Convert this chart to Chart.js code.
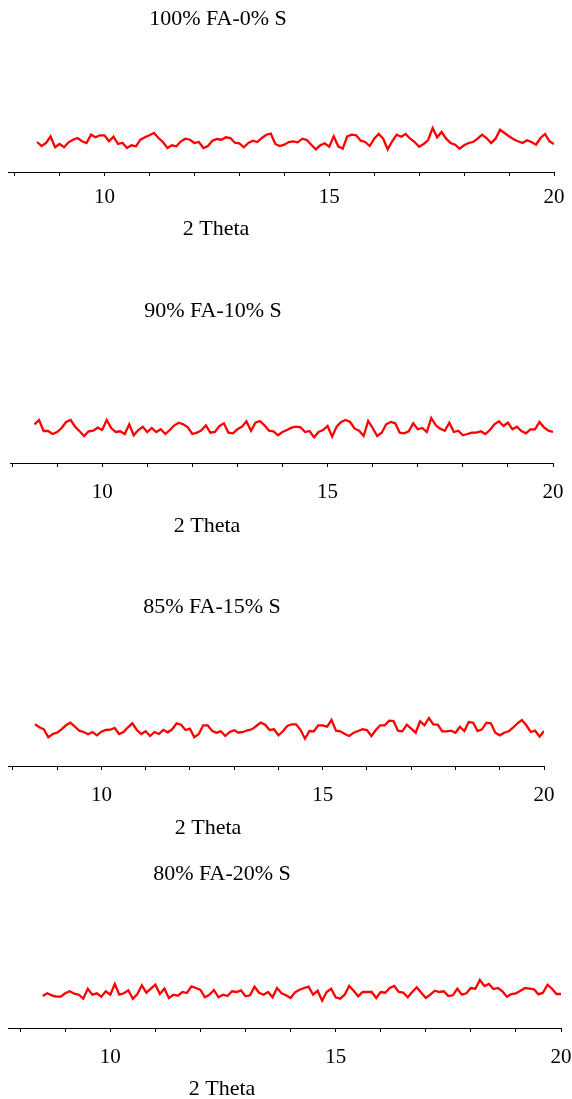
<!DOCTYPE html>
<html>
<head>
<meta charset="utf-8">
<script src="https://cdn.jsdelivr.net/npm/chart.js@4.4.0/dist/chart.umd.min.js"></script>
<style>
  body { margin: 0; background: #fff; width: 572px; height: 1099px; position: relative; overflow: hidden; }
  .panel { position: absolute; left: 0; width: 600px; }
</style>
</head>
<body>
<div class="panel" style="top:0px;height:238px"><canvas id="c1"></canvas></div>
<div class="panel" style="top:250px;height:287px"><canvas id="c2"></canvas></div>
<div class="panel" style="top:540px;height:300px"><canvas id="c3"></canvas></div>
<div class="panel" style="top:840px;height:262px"><canvas id="c4"></canvas></div>
<script>
// 2 Theta grid (degrees)
var twoTheta = [8.5, 8.6, 8.7, 8.8, 8.9, 9.0, 9.1, 9.2, 9.3, 9.4, 9.5, 9.6, 9.7, 9.8, 9.9,
  10.0, 10.1, 10.2, 10.3, 10.4, 10.5, 10.6, 10.7, 10.8, 10.9, 11.0, 11.1, 11.2, 11.3, 11.4,
  11.5, 11.6, 11.7, 11.8, 11.9, 12.0, 12.1, 12.2, 12.3, 12.4, 12.5, 12.6, 12.7, 12.8, 12.9,
  13.0, 13.1, 13.2, 13.3, 13.4, 13.5, 13.6, 13.7, 13.8, 13.9, 14.0, 14.1, 14.2, 14.3, 14.4,
  14.5, 14.6, 14.7, 14.8, 14.9, 15.0, 15.1, 15.2, 15.3, 15.4, 15.5, 15.6, 15.7, 15.8, 15.9,
  16.0, 16.1, 16.2, 16.3, 16.4, 16.5, 16.6, 16.7, 16.8, 16.9, 17.0, 17.1, 17.2, 17.3, 17.4,
  17.5, 17.6, 17.7, 17.8, 17.9, 18.0, 18.1, 18.2, 18.3, 18.4, 18.5, 18.6, 18.7, 18.8, 18.9,
  19.0, 19.1, 19.2, 19.3, 19.4, 19.5, 19.6, 19.7, 19.8, 19.9, 20.0];

// intensities (arbitrary units)
var fa100 = [30, 26, 29, 35.5, 24.7, 28, 24.7, 29.7, 32.3, 34, 30.7, 29, 37.3, 34.7, 36.7, 36.7, 30.7, 35.3, 28, 29.3,
  24, 26.7, 25.7, 32.3, 34.7, 36.7, 39, 34, 30, 24, 26.7, 25.7, 30.7, 33.3, 32.3, 29, 30, 24, 26, 31.3,
  33, 32.3, 34.7, 34, 29.3, 28.7, 24.7, 29, 31.3, 30, 34, 37.3, 38.3, 28, 26, 27.3, 30, 30.7,
  29.7, 33.3, 32, 27.3, 22.7, 26.7, 28.7, 25.3, 35.7, 25.7, 23.3, 35.7, 37.3, 36.7, 31.3, 30, 26, 33.3, 38, 33.3,
  22.7, 30.7, 37.3, 35.3, 38, 33.3, 30, 25.3, 28, 32, 44, 34.7, 40, 33.3, 29, 27.3, 23.3, 26.7, 29, 30,
  33.3, 37.3, 34, 29, 33.3, 42.3, 39, 35.7, 32.7, 30.7, 29, 31.7, 30, 27.3, 34, 38, 30.7, 28];

var fa90 = [38.7, 43, 32, 32, 29, 31, 35, 41, 43, 36.3, 31.7, 27, 31.7, 32.3, 35.3, 33, 43, 35, 31, 31.7,
  29, 38.7, 27.7, 33, 36.3, 31, 35, 31, 33.7, 29, 33, 37.7, 40.3, 38.7, 35.7, 29, 30.3, 32.7, 37.7, 30.3,
  31, 37, 39.7, 30.3, 29.7, 33.7, 36.3, 41.7, 32.3, 40.3, 42, 37.7, 32.3, 31.7, 27.7, 31, 33, 35.3,
  36.3, 35.7, 31, 32, 25.7, 31, 33, 37, 26.3, 36.3, 41, 43, 41, 34.3, 32.3, 27, 42, 35, 27, 30.3,
  38.7, 41, 39.7, 30.3, 29.7, 31.7, 39.7, 33.7, 35, 31, 45, 37.7, 34.3, 32.3, 40.3, 31, 32.3, 27.7, 29, 30.3,
  30.3, 31.7, 29, 33, 38.7, 41.7, 37, 40.3, 33.7, 36.3, 32, 29.7, 33.7, 33.7, 41, 35.7, 32.3, 31];

var fa85 = [41.7, 38.7, 36.7, 28.7, 32, 33.3, 36.7, 40.7, 43.3, 39.3, 35.3, 34, 31.7, 34, 30.7, 34.3, 36, 36.3, 38, 32,
  34, 38.7, 42.7, 36, 32, 34.7, 30, 34, 32, 36, 33.7, 36.7, 42.7, 41.3, 36, 37.3, 28.7, 32, 40.7, 40.7,
  35.3, 33.3, 34.7, 30, 34, 35.7, 33.3, 34, 35.7, 36.7, 40, 43.3, 41.3, 36, 36.7, 30.7, 34.7, 40, 41.7,
  41.7, 36, 27.3, 35, 34.7, 40.7, 40.7, 39.3, 46, 35.3, 34.7, 32, 30, 33.3, 35, 36.7, 36, 30, 36, 40.7,
  40.7, 45.3, 45, 35.3, 34.7, 41.3, 37.3, 33.3, 44.7, 40.7, 48, 41.7, 41.3, 34.7, 34.7, 35.3, 33.3, 39.3, 35, 44,
  43.3, 35, 36.7, 43.3, 42.7, 33.3, 30.7, 33.3, 34.7, 38.3, 42.7, 46, 40.7, 34, 35.3, 29.3, 35];

var fa80 = [32, 34.7, 32.7, 31.3, 31.3, 34.7, 36.7, 34.3, 33.3, 29.3, 39.3, 33.3, 34.7, 31.3, 36.7, 33.3, 44, 33.3, 34.7, 37.7,
  29.3, 34, 42.7, 35.3, 39.3, 43.3, 34, 39.3, 30, 33.3, 32.3, 36, 35, 41.7, 40, 38, 30.7, 33.3, 38, 30.7,
  33.3, 32, 36.7, 36, 37.7, 31.7, 32.7, 41.3, 35.3, 33.3, 36, 30.7, 40, 34.7, 32.7, 30, 35.7, 38.3,
  40, 41.3, 33.3, 37.3, 27.3, 36, 39.3, 30.7, 29.3, 33.3, 42, 37.3, 31.7, 36, 36, 36, 30, 36, 35.3, 40,
  42, 36, 35.3, 30.7, 36, 40.7, 35.3, 30, 33.3, 37.3, 36, 36.7, 32, 32.7, 39.3, 33.3, 34.7, 40, 39.3, 48,
  42, 44, 39, 40, 36.7, 31.3, 34, 34.7, 37.3, 40, 39.3, 38.7, 33.7, 35.3, 43.3, 39.3, 34, 34];

var panelTitles = ['100% FA-0% S', '90% FA-10% S', '85% FA-15% S', '80% FA-20% S'];
var labeledTicks = [10, 15, 20];

var FONT = '"Liberation Serif", "Times New Roman", serif';

// draws the panel title and the "2 Theta" caption
var panelText = {
  id: 'panelText',
  afterDraw: function (chart, args, opts) {
    var c = chart.ctx;
    c.save();
    c.font = '22px ' + FONT;
    c.fillStyle = '#000';
    c.textAlign = 'center';
    c.textBaseline = 'middle';
    c.fillText(opts.title, opts.titleX, opts.titleY);
    c.fillText('2 Theta', opts.captionX, chart.chartArea.bottom + opts.captionDy);
    c.restore();
  }
};

function makePanel(id, values, title, s) {
  var pts = twoTheta.map(function (t, i) { return { x: t, y: values[i] }; });
  return new Chart(document.getElementById(id), {
    type: 'line',
    data: {
      datasets: [{
        data: pts,
        borderColor: 'rgb(255, 0, 0)',
        borderWidth: 2.3,
        pointRadius: 0,
        tension: 0,
        fill: false
      }]
    },
    options: {
      responsive: true,
      maintainAspectRatio: false,
      animation: false,
      layout: { padding: { left: 8, right: 600 - s.right, top: 0, bottom: 20 } },
      plugins: {
        legend: { display: false },
        tooltip: { enabled: false },
        panelText: { title: title, titleX: s.titleX, titleY: s.titleY, captionX: s.captionX, captionDy: s.captionDy }
      },
      scales: {
        x: {
          type: 'linear',
          min: s.xMin,
          max: 20,
          border: { display: true, color: '#000', width: 1 },
          grid: { display: true, drawOnChartArea: false, drawTicks: true, tickLength: 4, color: '#000' },
          ticks: {
            stepSize: 1,
            includeBounds: false,
            autoSkip: false,
            maxRotation: 0,
            padding: s.tickPad,
            color: '#000',
            font: { family: FONT, size: 21, lineHeight: '26px' },
            callback: function (v) { return labeledTicks.indexOf(v) >= 0 ? String(v) : ''; }
          }
        },
        y: { display: false, min: 0, max: s.yMax }
      }
    },
    plugins: [panelText]
  });
}

// axis box height = 4 (tick) + 26 (label) + 2 * tickPad
makePanel('c1', fa100, panelTitles[0], { xMin: 7.853, right: 554, tickPad: 8, yMax: 172, titleX: 218, titleY: 19, captionX: 216, captionDy: 57 });
makePanel('c2', fa90, panelTitles[1], { xMin: 7.969, right: 553, tickPad: 12, yMax: 213, titleX: 213, titleY: 61, captionX: 207, captionDy: 63 });
makePanel('c3', fa85, panelTitles[2], { xMin: 7.89, right: 544, tickPad: 12, yMax: 226, titleX: 212, titleY: 67, captionX: 208, captionDy: 62 });
makePanel('c4', fa80, panelTitles[3], { xMin: 7.73, right: 561, tickPad: 12, yMax: 188, titleX: 222, titleY: 34, captionX: 222, captionDy: 61 });
</script>
</body>
</html>
